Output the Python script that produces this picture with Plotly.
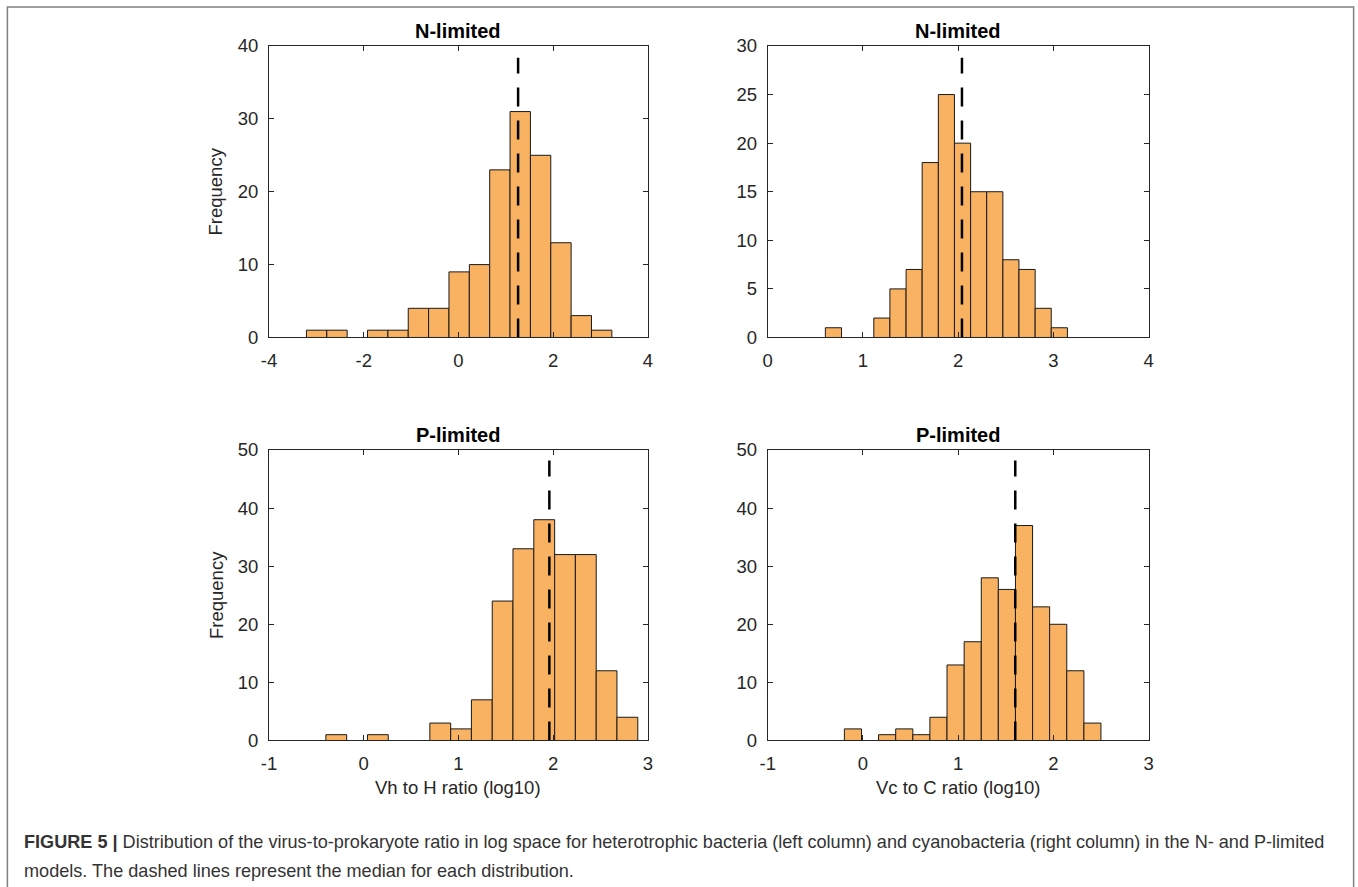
import plotly.graph_objects as go

# ---------------- data ----------------
# bin edges (len = counts + 1) and counts for each histogram
nh_edges = [-3.21, -2.78, -2.35, -1.92, -1.49, -1.06, -0.63, -0.20, 0.23, 0.66, 1.09, 1.52, 1.95, 2.38, 2.81, 3.24]
nh_counts = [1, 1, 0, 1, 1, 4, 4, 9, 10, 23, 31, 25, 13, 3, 1]
nh_median = 1.26

nc_edges = [0.605, 0.775, 0.944, 1.114, 1.283, 1.453, 1.622, 1.792, 1.961, 2.131, 2.300, 2.470, 2.639, 2.809, 2.978, 3.148]
nc_counts = [1, 0, 0, 2, 5, 7, 18, 25, 20, 15, 15, 8, 7, 3, 1]
nc_median = 2.04

ph_edges = [-0.40, -0.180, 0.039, 0.259, 0.478, 0.698, 0.918, 1.137, 1.357, 1.576, 1.796, 2.016, 2.235, 2.455, 2.674, 2.894]
ph_counts = [1, 0, 1, 0, 0, 3, 2, 7, 24, 33, 38, 32, 32, 12, 4]
ph_median = 1.96

pc_edges = [-0.195, -0.015, 0.164, 0.344, 0.524, 0.703, 0.883, 1.063, 1.243, 1.422, 1.602, 1.782, 1.961, 2.141, 2.321, 2.500]
pc_counts = [2, 0, 1, 2, 1, 4, 13, 17, 28, 26, 37, 23, 20, 12, 3]
pc_median = 1.60

titles = ["N-limited", "N-limited", "P-limited", "P-limited"]
x_ranges = [[-4, 4], [0, 4], [-1, 3], [-1, 3]]
x_ticks = [[-4, -2, 0, 2, 4], [0, 1, 2, 3, 4], [-1, 0, 1, 2, 3], [-1, 0, 1, 2, 3]]
x_ticktext = [["-4", "-2", "0", "2", "4"], ["0", "1", "2", "3", "4"],
              ["-1", "0", "1", "2", "3"], ["-1", "0", "1", "2", "3"]]
y_ranges = [[0, 40], [0, 30], [0, 50], [0, 50]]
y_ticks = [[0, 10, 20, 30, 40], [0, 5, 10, 15, 20, 25, 30], [0, 10, 20, 30, 40, 50], [0, 10, 20, 30, 40, 50]]
median_top = [38.4, 28.8, 48.2, 48.2]
y_label = "Frequency"
x_labels = ["Vh to H ratio (log10)", "Vc to C ratio (log10)"]
caption_bold = "FIGURE 5 |"
caption_line1 = (" Distribution of the virus-to-prokaryote ratio in log space for heterotrophic bacteria "
                 "(left column) and cyanobacteria (right column) in the N- and P-limited")
caption_line2 = "models. The dashed lines represent the median for each distribution."

panels = [
    (nh_edges, nh_counts, nh_median),
    (nc_edges, nc_counts, nc_median),
    (ph_edges, ph_counts, ph_median),
    (pc_edges, pc_counts, pc_median),
]

# ---------------- layout geometry ----------------
W, H = 1358, 887
FONT = "Liberation Sans, Arial, Helvetica, sans-serif"
AX = "#262626"
BAR = "#F9B262"

# compensation for the way the page is captured (measured)
SX, BX, SY, BY = 0.991, 8.1, 0.977, 10.0


def PX(x):
    return (x - BX) / SX / W


def PY(y):
    return 1 - (y - BY) / SY / H


FS = 18.5

px_x = [(269.3, 648.3), (768.3, 1149.3)]
px_y = [(45.0, 336.7), (449.3, 740.0)]

fig = go.Figure()

layout = dict(
    width=W, height=H,
    margin=dict(l=0, r=0, t=0, b=0),
    paper_bgcolor="white", plot_bgcolor="white",
    showlegend=False,
    font=dict(family=FONT, size=FS, color=AX),
    bargap=0,
)

annotations = []
for i, (edges, counts, med) in enumerate(panels):
    row, col = divmod(i, 2)
    xa = "x" if i == 0 else f"x{i+1}"
    ya = "y" if i == 0 else f"y{i+1}"
    centers = [(edges[k] + edges[k + 1]) / 2 for k in range(len(counts))]
    widths = [edges[k + 1] - edges[k] for k in range(len(counts))]
    yvals = [c if c > 0 else None for c in counts]
    fig.add_trace(go.Bar(
        x=centers, y=yvals, width=widths, xaxis=xa, yaxis=ya,
        marker=dict(color=BAR, line=dict(color="#1a1a1a", width=1)),
        hoverinfo="skip",
    ))
    fig.add_trace(go.Scatter(
        x=[med, med], y=[0, median_top[i]], mode="lines", xaxis=xa, yaxis=ya,
        line=dict(color="black", width=2.5, dash="19px,14px"),
        hoverinfo="skip",
    ))
    x0, x1 = px_x[col]
    y0, y1 = px_y[row]
    xkey = "xaxis" if i == 0 else f"xaxis{i+1}"
    ykey = "yaxis" if i == 0 else f"yaxis{i+1}"
    common = dict(showline=True, mirror="ticks", ticks="inside", ticklen=5,
                  tickcolor=AX, linecolor=AX, linewidth=1, showgrid=False,
                  zeroline=False, fixedrange=True,
                  tickfont=dict(family=FONT, size=FS, color=AX))
    layout[xkey] = dict(domain=[PX(x0), PX(x1)], range=x_ranges[i], anchor=ya,
                        tickvals=x_ticks[i], ticktext=x_ticktext[i],
                        ticklabelstandoff=6, **common)
    layout[ykey] = dict(domain=[PY(y1), PY(y0)], range=y_ranges[i], anchor=xa,
                        tickvals=y_ticks[i], ticklabelstandoff=6, **common)
    annotations.append(dict(text=f"<b>{titles[i]}</b>", xref="paper", yref="paper",
                            x=PX((x0 + x1) / 2), y=PY(y0 - 15), showarrow=False,
                            font=dict(family=FONT, size=20, color="black"),
                            xanchor="center", yanchor="middle"))
    if col == 0:
        annotations.append(dict(text=y_label, xref="paper", yref="paper",
                                x=PX(216), y=PY((y0 + y1) / 2), showarrow=False,
                                textangle=-90, font=dict(family=FONT, size=FS, color=AX),
                                xanchor="center", yanchor="middle"))
    if row == 1:
        annotations.append(dict(text=x_labels[col], xref="paper", yref="paper",
                                x=PX((x0 + x1) / 2), y=PY(787), showarrow=False,
                                font=dict(family=FONT, size=FS, color=AX),
                                xanchor="center", yanchor="middle"))

annotations.append(dict(text=f"<b>{caption_bold}</b>{caption_line1}", xref="paper", yref="paper",
                        x=PX(22), y=PY(842), showarrow=False, xanchor="left", yanchor="middle",
                        font=dict(family=FONT, size=18.1, color="#333333")))
annotations.append(dict(text=caption_line2, xref="paper", yref="paper",
                        x=PX(22), y=PY(871), showarrow=False, xanchor="left", yanchor="middle",
                        font=dict(family=FONT, size=18.1, color="#333333")))

layout["annotations"] = annotations
layout["shapes"] = [dict(type="rect", xref="paper", yref="paper",
                         x0=PX(7.5), x1=PX(1354.5), y0=-0.05, y1=PY(6),
                         line=dict(color="#808080", width=1.5), fillcolor="rgba(0,0,0,0)")]
fig.update_layout(**layout)
fig.write_html(
    "out.html",
    config={"displayModeBar": False, "staticPlot": True},
    post_script="document.body.style.margin='0';document.body.style.padding='0';"
                "document.documentElement.style.overflow='hidden';",
)
